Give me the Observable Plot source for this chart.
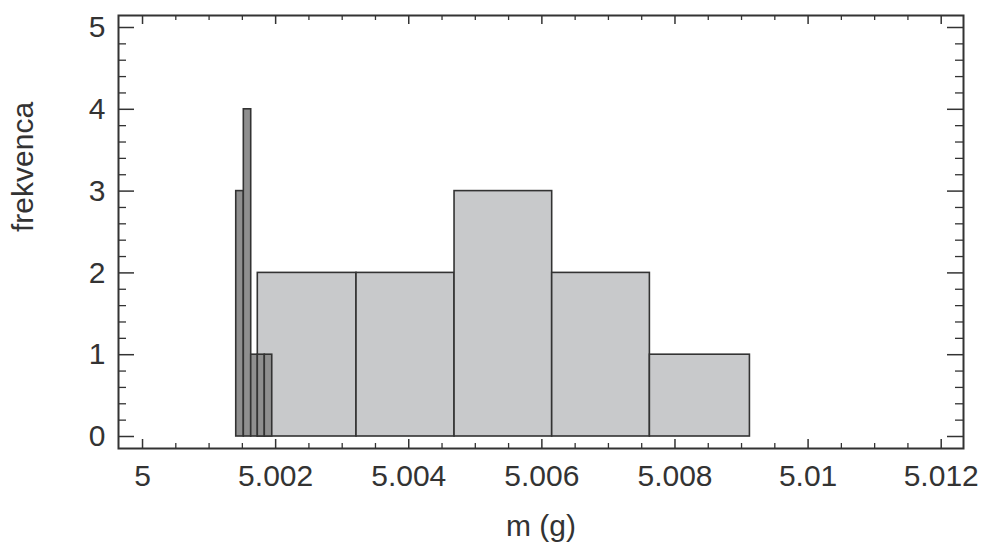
<!DOCTYPE html>
<html>
<head>
<meta charset="utf-8">
<script src="https://cdn.jsdelivr.net/npm/d3@7"></script>
<script src="https://cdn.jsdelivr.net/npm/@observablehq/plot@0.6"></script>
<style>
  html, body { margin: 0; padding: 0; background: #fff; }
  svg { display: block; }
</style>
</head>
<body>
<div id="chart"></div>
<script>
// Wide histogram (light gray): bin edges and counts
const lightEdges = [5.001732, 5.003215, 5.004688, 5.006155, 5.007623, 5.009126];
const lightCounts = [2, 2, 3, 2, 1];
// Narrow histogram (dark gray): bin edges and counts
const darkEdges = [5.001408, 5.001522, 5.001633, 5.001732, 5.001837, 5.001949];
const darkCounts = [3, 4, 1, 1, 1];

// Tick values and labels
const xMajor = [5, 5.002, 5.004, 5.006, 5.008, 5.010, 5.012];
const xLabels = ["5", "5.002", "5.004", "5.006", "5.008", "5.01", "5.012"];
const xMinor = [5.0005, 5.001, 5.0015, 5.0025, 5.003, 5.0035, 5.0045, 5.005, 5.0055,
                5.0065, 5.007, 5.0075, 5.0085, 5.009, 5.0095, 5.0105, 5.011, 5.0115];
const yMajor = [0, 1, 2, 3, 4, 5];
const yLabels = ["0", "1", "2", "3", "4", "5"];
const yMinor = [0.2, 0.4, 0.6, 0.8, 1.2, 1.4, 1.6, 1.8, 2.2, 2.4, 2.6, 2.8,
                3.2, 3.4, 3.6, 3.8, 4.2, 4.4, 4.6, 4.8];

const xLabel = "m (g)";
const yLabel = "frekvenca";

const toBins = (edges, counts) => counts.map((c, i) => ({x1: edges[i], x2: edges[i + 1], y: c}));
const lightBins = toBins(lightEdges, lightCounts);
const darkBins = toBins(darkEdges, darkCounts);

const W = 982, H = 547;
const mL = 118, mR = 19, mT = 15, mB = 99;
const plotW = W - mL - mR, plotH = H - mT - mB;
const ink = "#333";
const font = "'Liberation Sans', Arial, Helvetica, sans-serif";
const fs = 30;

const chart = Plot.plot({
  width: W,
  height: H,
  marginLeft: mL,
  marginRight: mR,
  marginTop: mT,
  marginBottom: mB,
  style: {fontFamily: font, fontSize: fs + "px", color: ink, background: "#fff"},
  x: {domain: [4.999639, 5.012335]},
  y: {domain: [-0.1467, 5.1467]},
  marks: [
    Plot.rectY(lightBins, {x1: "x1", x2: "x2", y1: 0, y2: "y", fill: "#c8c9cb", stroke: ink, strokeWidth: 1.6}),
    Plot.rectY(darkBins, {x1: "x1", x2: "x2", y1: 0, y2: "y", fill: "#8f8f8f", stroke: ink, strokeWidth: 1.6}),
    // inward ticks, bottom & top
    Plot.tickX(xMajor, {x: d => d, insetTop: plotH - 9, stroke: ink, strokeWidth: 1.5}),
    Plot.tickX(xMajor, {x: d => d, insetBottom: plotH - 9, stroke: ink, strokeWidth: 1.5}),
    Plot.tickX(xMinor, {x: d => d, insetTop: plotH - 5, stroke: ink, strokeWidth: 1.3}),
    Plot.tickX(xMinor, {x: d => d, insetBottom: plotH - 5, stroke: ink, strokeWidth: 1.3}),
    // inward ticks, left & right
    Plot.tickY(yMajor, {y: d => d, insetRight: plotW - 16, stroke: ink, strokeWidth: 1.5}),
    Plot.tickY(yMajor, {y: d => d, insetLeft: plotW - 16, stroke: ink, strokeWidth: 1.5}),
    Plot.tickY(yMinor, {y: d => d, insetRight: plotW - 8, stroke: ink, strokeWidth: 1.3}),
    Plot.tickY(yMinor, {y: d => d, insetLeft: plotW - 8, stroke: ink, strokeWidth: 1.3}),
    Plot.frame({stroke: ink, strokeWidth: 2}),
    Plot.axisX(xMajor, {tickSize: 0, tickPadding: 16, tickFormat: (d, i) => xLabels[i], fontSize: fs, fill: ink, label: null}),
    Plot.axisY(yMajor, {tickSize: 0, tickPadding: 13, tickFormat: (d, i) => yLabels[i], fontSize: fs, fill: ink, label: null}),
    Plot.text([xLabel], {text: d => d, frameAnchor: "bottom", dy: 78, lineAnchor: "middle", fontSize: fs, fill: ink}),
    Plot.text([yLabel], {text: d => d, frameAnchor: "left", dx: -95, rotate: -90, lineAnchor: "middle", fontSize: fs, fill: ink})
  ]
});

document.getElementById("chart").appendChild(chart);
</script>
</body>
</html>
